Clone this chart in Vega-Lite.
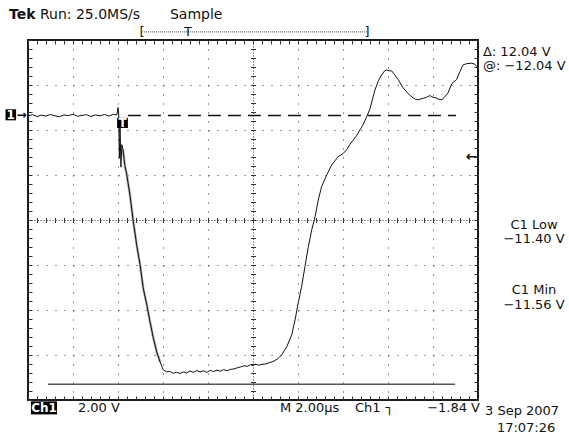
{
  "$schema": "https://vega.github.io/schema/vega-lite/v6.json",
  "width": 450,
  "height": 360,
  "autosize": {"type": "none"},
  "padding": {"left": 28, "top": 40, "right": 91, "bottom": 34},
  "background": "white",
  "config": {
    "view": {"stroke": "#1a1a1a", "strokeWidth": 2},
    "axis": {"labels": false, "domain": false, "ticks": false, "grid": false, "tickColor": "#333", "gridColor": "#333", "gridWidth": 1, "tickWidth": 1},
    "text": {"font": "DejaVu Sans", "fontSize": 13, "color": "#111", "baseline": "middle"}
  },
  "resolve": {"axis": {"x": "independent", "y": "independent"}},
  "datasets": {
    "trace": [
      {"t": 0, "v": -0.02}, {"t": 0.2, "v": 0.03}, {"t": 0.4, "v": -0.05}, {"t": 0.6, "v": 0.01}, {"t": 0.8, "v": -0.03},
      {"t": 1.0, "v": 0.04}, {"t": 1.2, "v": -0.02}, {"t": 1.4, "v": -0.06}, {"t": 1.6, "v": 0.02}, {"t": 1.8, "v": -0.01},
      {"t": 2.0, "v": 0.05}, {"t": 2.2, "v": -0.04}, {"t": 2.4, "v": 0.0}, {"t": 2.6, "v": 0.03}, {"t": 2.8, "v": -0.05},
      {"t": 3.0, "v": 0.02}, {"t": 3.2, "v": -0.02}, {"t": 3.4, "v": 0.04}, {"t": 3.6, "v": -0.03}, {"t": 3.8, "v": 0.05},
      {"t": 3.95, "v": 0.02}, {"t": 4.0, "v": 0.35}, {"t": 4.03, "v": 0.1}, {"t": 4.06, "v": -1.9}, {"t": 4.09, "v": -0.4},
      {"t": 4.13, "v": -2.3}, {"t": 4.17, "v": -1.3}, {"t": 4.22, "v": -1.5}, {"t": 4.3, "v": -2.2}, {"t": 4.39, "v": -2.64},
      {"t": 4.53, "v": -3.53}, {"t": 4.68, "v": -4.72}, {"t": 4.83, "v": -5.76}, {"t": 4.98, "v": -6.64}, {"t": 5.12, "v": -7.67},
      {"t": 5.28, "v": -8.42}, {"t": 5.42, "v": -9.16}, {"t": 5.57, "v": -9.89}, {"t": 5.72, "v": -10.51}, {"t": 5.87, "v": -10.96},
      {"t": 6.01, "v": -11.31}, {"t": 6.16, "v": -11.4}, {"t": 6.3, "v": -11.38}, {"t": 6.45, "v": -11.46}, {"t": 6.6, "v": -11.42},
      {"t": 6.76, "v": -11.47}, {"t": 6.9, "v": -11.4}, {"t": 7.05, "v": -11.45}, {"t": 7.2, "v": -11.36}, {"t": 7.35, "v": -11.42},
      {"t": 7.5, "v": -11.34}, {"t": 7.65, "v": -11.4}, {"t": 7.8, "v": -11.35}, {"t": 7.95, "v": -11.42}, {"t": 8.1, "v": -11.33},
      {"t": 8.25, "v": -11.39}, {"t": 8.4, "v": -11.32}, {"t": 8.55, "v": -11.37}, {"t": 8.7, "v": -11.3}, {"t": 8.85, "v": -11.35},
      {"t": 9.0, "v": -11.29}, {"t": 9.15, "v": -11.27}, {"t": 9.3, "v": -11.22}, {"t": 9.45, "v": -11.18}, {"t": 9.6, "v": -11.13},
      {"t": 9.75, "v": -11.15}, {"t": 9.9, "v": -11.08}, {"t": 10.0, "v": -11.12}, {"t": 10.1, "v": -11.06}, {"t": 10.25, "v": -11.1},
      {"t": 10.4, "v": -11.07}, {"t": 10.55, "v": -11.05}, {"t": 10.7, "v": -11.0}, {"t": 10.89, "v": -10.94}, {"t": 11.1, "v": -10.82},
      {"t": 11.28, "v": -10.64}, {"t": 11.5, "v": -10.28}, {"t": 11.72, "v": -9.76}, {"t": 11.87, "v": -9.09}, {"t": 12.01, "v": -8.33},
      {"t": 12.16, "v": -7.61}, {"t": 12.31, "v": -6.72}, {"t": 12.46, "v": -5.83}, {"t": 12.61, "v": -5.09}, {"t": 12.76, "v": -4.5},
      {"t": 12.9, "v": -3.76}, {"t": 13.05, "v": -3.16}, {"t": 13.28, "v": -2.64}, {"t": 13.5, "v": -2.2}, {"t": 13.79, "v": -1.83},
      {"t": 14.0, "v": -1.7}, {"t": 14.16, "v": -1.53}, {"t": 14.3, "v": -1.3}, {"t": 14.46, "v": -1.09}, {"t": 14.6, "v": -0.9},
      {"t": 14.76, "v": -0.64}, {"t": 14.9, "v": -0.4}, {"t": 15.05, "v": -0.07}, {"t": 15.2, "v": 0.3}, {"t": 15.42, "v": 1.13},
      {"t": 15.58, "v": 1.55}, {"t": 15.72, "v": 1.8}, {"t": 15.85, "v": 1.98}, {"t": 15.94, "v": 2.02}, {"t": 16.05, "v": 1.98},
      {"t": 16.16, "v": 1.98}, {"t": 16.3, "v": 1.8}, {"t": 16.46, "v": 1.58}, {"t": 16.67, "v": 1.22}, {"t": 16.83, "v": 1.04},
      {"t": 16.97, "v": 0.9}, {"t": 17.11, "v": 0.78}, {"t": 17.22, "v": 0.72}, {"t": 17.33, "v": 0.69}, {"t": 17.45, "v": 0.73},
      {"t": 17.57, "v": 0.76}, {"t": 17.7, "v": 0.8}, {"t": 17.87, "v": 0.88}, {"t": 17.95, "v": 0.82}, {"t": 18.13, "v": 0.78},
      {"t": 18.25, "v": 0.72}, {"t": 18.39, "v": 0.69}, {"t": 18.5, "v": 0.8}, {"t": 18.67, "v": 1.0}, {"t": 18.83, "v": 1.4},
      {"t": 19.05, "v": 1.6}, {"t": 19.2, "v": 1.95}, {"t": 19.33, "v": 2.24}, {"t": 19.5, "v": 2.3}, {"t": 19.72, "v": 2.32},
      {"t": 19.85, "v": 2.28}, {"t": 19.94, "v": 2.17}, {"t": 20.0, "v": 2.16}
    ]
  },
  "layer": [
    {
      "data": {"name": "trace"},
      "transform": [{"filter": "datum.t >= 4.2 && datum.t <= 6.0"}],
      "mark": {"type": "line", "color": "#b0b0b0", "strokeWidth": 2.5},
      "encoding": {
        "x": {"field": "t", "type": "quantitative", "scale": {"domain": [0, 20], "nice": false, "zero": false},
              "axis": {"orient": "bottom", "title": null, "values": [0, 2, 4, 6, 8, 10, 12, 14, 16, 18, 20], "grid": true, "gridDash": [1, 8]}},
        "y": {"field": "v", "type": "quantitative", "scale": {"domain": [-12.65, 3.35], "nice": false, "zero": false},
              "axis": {"orient": "left", "title": null, "values": [3.35, 1.35, -0.65, -2.65, -4.65, -6.65, -8.65, -10.65, -12.65], "grid": true, "gridDash": [1, 8]}}
      }
    },
    {
      "data": {"name": "trace"},
      "mark": {"type": "line", "color": "#111", "strokeWidth": 1},
      "encoding": {
        "x": {"field": "t", "type": "quantitative", "scale": {"domain": [0, 20], "nice": false, "zero": false},
              "axis": {"orient": "bottom", "title": null, "offset": -4, "ticks": true, "tickSize": 4,
                       "values": [0,0.4,0.8,1.2,1.6,2,2.4,2.8,3.2,3.6,4,4.4,4.8,5.2,5.6,6,6.4,6.8,7.2,7.6,8,8.4,8.8,9.2,9.6,10,10.4,10.8,11.2,11.6,12,12.4,12.8,13.2,13.6,14,14.4,14.8,15.2,15.6,16,16.4,16.8,17.2,17.6,18,18.4,18.8,19.2,19.6,20]}},
        "y": {"field": "v", "type": "quantitative", "scale": {"domain": [-12.65, 3.35], "nice": false, "zero": false},
              "axis": {"orient": "left", "title": null, "offset": -4, "ticks": true, "tickSize": 4,
                       "values": [3.35,2.95,2.55,2.15,1.75,1.35,0.95,0.55,0.15,-0.25,-0.65,-1.05,-1.45,-1.85,-2.25,-2.65,-3.05,-3.45,-3.85,-4.25,-4.65,-5.05,-5.45,-5.85,-6.25,-6.65,-7.05,-7.45,-7.85,-8.25,-8.65,-9.05,-9.45,-9.85,-10.25,-10.65,-11.05,-11.45,-11.85,-12.25,-12.65]}}
      }
    },
    {
      "data": {"values": [{"t": 4.44, "t2": 19.02, "v": 0}]},
      "mark": {"type": "rule", "color": "#111", "strokeWidth": 1.5, "strokeDash": [13, 7]},
      "encoding": {
        "x": {"field": "t", "type": "quantitative", "scale": {"domain": [0, 20], "nice": false, "zero": false},
              "axis": {"orient": "top", "title": null, "offset": -4, "ticks": true, "tickSize": 4,
                       "values": [0,0.4,0.8,1.2,1.6,2,2.4,2.8,3.2,3.6,4,4.4,4.8,5.2,5.6,6,6.4,6.8,7.2,7.6,8,8.4,8.8,9.2,9.6,10,10.4,10.8,11.2,11.6,12,12.4,12.8,13.2,13.6,14,14.4,14.8,15.2,15.6,16,16.4,16.8,17.2,17.6,18,18.4,18.8,19.2,19.6,20]}},
        "x2": {"field": "t2"},
        "y": {"field": "v", "type": "quantitative", "scale": {"domain": [-12.65, 3.35], "nice": false, "zero": false},
              "axis": {"orient": "right", "title": null, "offset": -4, "ticks": true, "tickSize": 4,
                       "values": [3.35,2.95,2.55,2.15,1.75,1.35,0.95,0.55,0.15,-0.25,-0.65,-1.05,-1.45,-1.85,-2.25,-2.65,-3.05,-3.45,-3.85,-4.25,-4.65,-5.05,-5.45,-5.85,-6.25,-6.65,-7.05,-7.45,-7.85,-8.25,-8.65,-9.05,-9.45,-9.85,-10.25,-10.65,-11.05,-11.45,-11.85,-12.25,-12.65]}}
      }
    },
    {
      "data": {"values": [{"t": 0.89, "t2": 18.98, "v": -11.95}]},
      "mark": {"type": "rule", "color": "#555", "strokeWidth": 1.5},
      "encoding": {
        "x": {"field": "t", "type": "quantitative", "scale": {"domain": [0, 20], "nice": false, "zero": false},
              "axis": {"orient": "bottom", "title": null, "offset": -182.5, "ticks": true, "tickSize": 5,
                       "values": [0.4,0.8,1.2,1.6,2,2.4,2.8,3.2,3.6,4,4.4,4.8,5.2,5.6,6,6.4,6.8,7.2,7.6,8,8.4,8.8,9.2,9.6,10,10.4,10.8,11.2,11.6,12,12.4,12.8,13.2,13.6,14,14.4,14.8,15.2,15.6,16,16.4,16.8,17.2,17.6,18,18.4,18.8,19.2,19.6]}},
        "x2": {"field": "t2"},
        "y": {"field": "v", "type": "quantitative", "scale": {"domain": [-12.65, 3.35], "nice": false, "zero": false},
              "axis": {"orient": "left", "title": null, "offset": -227.5, "ticks": true, "tickSize": 5,
                       "values": [2.95,2.55,2.15,1.75,1.35,0.95,0.55,0.15,-0.25,-0.65,-1.05,-1.45,-1.85,-2.25,-2.65,-3.05,-3.45,-3.85,-4.25,-4.65,-5.05,-5.45,-5.85,-6.25,-6.65,-7.05,-7.45,-7.85,-8.25,-8.65,-9.05,-9.45,-9.85,-10.25,-10.65,-11.05,-11.45,-11.85,-12.25]}}
      }
    },
    {
      "data": {"values": [{"t": 5.07, "t2": 15.07, "v": 3.71}]},
      "mark": {"type": "rule", "color": "#444", "strokeWidth": 1, "strokeDash": [1, 1]},
      "encoding": {
        "x": {"field": "t", "type": "quantitative", "scale": {"domain": [0, 20], "nice": false, "zero": false},
              "axis": {"orient": "bottom", "title": null, "values": [10], "grid": true, "gridDash": [1, 2]}},
        "x2": {"field": "t2"},
        "y": {"field": "v", "type": "quantitative", "scale": {"domain": [-12.65, 3.35], "nice": false, "zero": false},
              "axis": {"orient": "left", "title": null, "values": [-4.65], "grid": true, "gridDash": [1, 2]}}
      }
    },
    {
      "data": {"values": [
        {"t": -1.0, "t2": -0.53, "v": 0.27, "v2": -0.22},
        {"t": 3.96, "t2": 4.44, "v": -0.11, "v2": -0.56},
        {"t": 0.13, "t2": 1.29, "v": -12.71, "v2": -13.29}
      ]},
      "mark": {"type": "rect", "color": "#000"},
      "encoding": {
        "x": {"field": "t", "type": "quantitative", "scale": {"domain": [0, 20], "nice": false, "zero": false}, "axis": null},
        "x2": {"field": "t2"},
        "y": {"field": "v", "type": "quantitative", "scale": {"domain": [-12.65, 3.35], "nice": false, "zero": false}, "axis": null},
        "y2": {"field": "v2"}
      }
    },
    {
      "data": {"values": [
        {"label": "1", "t": -0.77, "v": 0.03},
        {"label": "T", "t": 4.2, "v": -0.33},
        {"label": "Ch1", "t": 0.71, "v": -13.0}
      ]},
      "mark": {"type": "text", "color": "white", "fontWeight": "bold", "fontSize": 12, "align": "center"},
      "encoding": {
        "x": {"field": "t", "type": "quantitative", "scale": {"domain": [0, 20], "nice": false, "zero": false}, "axis": null},
        "y": {"field": "v", "type": "quantitative", "scale": {"domain": [-12.65, 3.35], "nice": false, "zero": false}, "axis": null},
        "text": {"field": "label"}
      }
    },
    {
      "data": {"values": [{"label": "Tek", "t": -0.84, "v": 4.47}]},
      "mark": {"type": "text", "fontWeight": "bold", "fontSize": 14, "align": "left"},
      "encoding": {
        "x": {"field": "t", "type": "quantitative", "scale": {"domain": [0, 20], "nice": false, "zero": false}, "axis": null},
        "y": {"field": "v", "type": "quantitative", "scale": {"domain": [-12.65, 3.35], "nice": false, "zero": false}, "axis": null},
        "text": {"field": "label"}
      }
    },
    {
      "data": {"values": [
        {"label": "Run: 25.0MS/s", "t": 0.53, "v": 4.47},
        {"label": "Sample", "t": 6.31, "v": 4.47}
      ]},
      "mark": {"type": "text", "fontSize": 14, "align": "left"},
      "encoding": {
        "x": {"field": "t", "type": "quantitative", "scale": {"domain": [0, 20], "nice": false, "zero": false}, "axis": null},
        "y": {"field": "v", "type": "quantitative", "scale": {"domain": [-12.65, 3.35], "nice": false, "zero": false}, "axis": null},
        "text": {"field": "label"}
      }
    },
    {
      "data": {"values": [
        {"label": "Δ: 12.04 V", "t": 20.22, "v": 2.82},
        {"label": "@: −12.04 V", "t": 20.22, "v": 2.18},
        {"label": "2.00 V", "t": 2.22, "v": -13.0},
        {"label": "M 2.00µs", "t": 11.2, "v": -13.0},
        {"label": "Ch1", "t": 14.53, "v": -13.0},
        {"label": "┐", "t": 15.9, "v": -13.0},
        {"label": "3 Sep 2007", "t": 20.31, "v": -13.13},
        {"label": "17:07:26", "t": 20.84, "v": -13.89}
      ]},
      "mark": {"type": "text", "align": "left"},
      "encoding": {
        "x": {"field": "t", "type": "quantitative", "scale": {"domain": [0, 20], "nice": false, "zero": false}, "axis": null},
        "y": {"field": "v", "type": "quantitative", "scale": {"domain": [-12.65, 3.35], "nice": false, "zero": false}, "axis": null},
        "text": {"field": "label"}
      }
    },
    {
      "data": {"values": [
        {"label": "←", "t": 19.45, "v": -1.84}
      ]},
      "mark": {"type": "text", "align": "left", "fontWeight": "bold", "fontSize": 14},
      "encoding": {
        "x": {"field": "t", "type": "quantitative", "scale": {"domain": [0, 20], "nice": false, "zero": false}, "axis": null},
        "y": {"field": "v", "type": "quantitative", "scale": {"domain": [-12.65, 3.35], "nice": false, "zero": false}, "axis": null},
        "text": {"field": "label"}
      }
    },
    {
      "data": {"values": [
        {"label": "→", "t": -0.06, "v": 0.0}
      ]},
      "mark": {"type": "text", "align": "right", "fontWeight": "bold", "fontSize": 12},
      "encoding": {
        "x": {"field": "t", "type": "quantitative", "scale": {"domain": [0, 20], "nice": false, "zero": false}, "axis": null},
        "y": {"field": "v", "type": "quantitative", "scale": {"domain": [-12.65, 3.35], "nice": false, "zero": false}, "axis": null},
        "text": {"field": "label"}
      }
    },
    {
      "data": {"values": [
        {"label": "−1.84 V", "t": 20.09, "v": -13.0}
      ]},
      "mark": {"type": "text", "align": "right"},
      "encoding": {
        "x": {"field": "t", "type": "quantitative", "scale": {"domain": [0, 20], "nice": false, "zero": false}, "axis": null},
        "y": {"field": "v", "type": "quantitative", "scale": {"domain": [-12.65, 3.35], "nice": false, "zero": false}, "axis": null},
        "text": {"field": "label"}
      }
    },
    {
      "data": {"values": [
        {"label": "C1 Low", "t": 22.49, "v": -4.87},
        {"label": "−11.40 V", "t": 22.49, "v": -5.49},
        {"label": "C1 Min", "t": 22.49, "v": -7.76},
        {"label": "−11.56 V", "t": 22.49, "v": -8.42},
        {"label": "[", "t": 5.07, "v": 3.71},
        {"label": "]", "t": 15.07, "v": 3.71},
        {"label": "T", "t": 7.11, "v": 3.71}
      ]},
      "mark": {"type": "text", "align": "center"},
      "encoding": {
        "x": {"field": "t", "type": "quantitative", "scale": {"domain": [0, 20], "nice": false, "zero": false}, "axis": null},
        "y": {"field": "v", "type": "quantitative", "scale": {"domain": [-12.65, 3.35], "nice": false, "zero": false}, "axis": null},
        "text": {"field": "label"}
      }
    }
  ]
}
